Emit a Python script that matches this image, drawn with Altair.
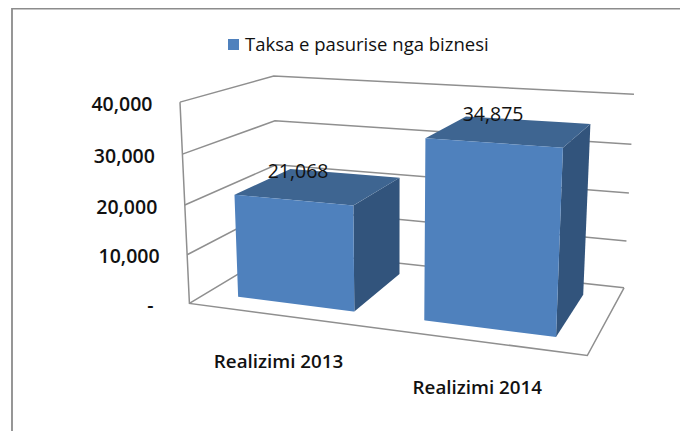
import altair as alt
import numpy as np
import pandas as pd

# ---- chart values ----
categories = ["Realizimi 2013", "Realizimi 2014"]
values = [21068, 34875]
value_labels = ["21,068", "34,875"]
tick_values = [0, 10000, 20000, 30000, 40000]
tick_labels = ["-", "10,000", "20,000", "30,000", "40,000"]
series_name = "Taksa e pasurise nga biznesi"
axis_max = 40000

# ---- 3-D layout: calibration of the box (u across, w depth, v height) -> page pixels ----
calibration = [
    (0, 0, 1, 179, 102), (0, 0, .75, 183, 154), (0, 0, .5, 185, 205), (0, 0, .25, 188, 254), (0, 0, 0, 189, 304),
    (0, 1, 1, 274, 76), (0, 1, .75, 275, 121), (0, 1, .5, 276, 165), (0, 1, .25, 277, 208), (0, 1, 0, 278, 250),
    (1, 1, 1, 634, 94), (1, 1, .75, 631, 145), (1, 1, .5, 629, 193), (1, 1, .25, 627, 241), (1, 1, 0, 624, 287),
    (1, 0, 0, 587, 356),
]
rows = []
for u, w, v, px, py in calibration:
    X = [u, v, w, 1]
    rows.append(X + [0] * 4 + [-px * t for t in X])
    rows.append([0] * 4 + X + [-py * t for t in X])
P = np.linalg.svd(np.array(rows, float))[2][-1].reshape(3, 4)


def project(u, w, v):
    p = P @ np.array([u, v, w, 1.0])
    return float(p[0] / p[2]), float(p[1] / p[2])


bar_u = [(0.09, 0.41), (0.591, 0.911)]
bar_w = (0.175, 0.815)
label_nudge = [(-22, -14), (-18, -16)]

W, H = 672, 423
xs = alt.Scale(domain=[8, 8 + W], range=[0, W], nice=False, zero=False)
ys = alt.Scale(domain=[8, 8 + H], range=[0, H], nice=False, zero=False)
X_ = lambda f="x": alt.X(f"{f}:Q", scale=xs, axis=None)
Y_ = lambda f="y": alt.Y(f"{f}:Q", scale=ys, axis=None)

GRID = "#8f8f8f"
FRONT, TOP, SIDE = "#4f81bd", "#3e6591", "#32547c"
FONT = "Open Sans"
INK = "#111111"


def polygon_rows(poly, key):
    """Describe a convex polygon as the x / y / y2 of an area mark."""
    n = len(poly)
    out = []
    for bx in sorted({p[0] for p in poly}):
        hits = []
        for i in range(n):
            (x0, y0), (x1, y1) = poly[i], poly[(i + 1) % n]
            if min(x0, x1) <= bx <= max(x0, x1):
                if x0 == x1:
                    hits += [y0, y1]
                else:
                    hits.append(y0 + (y1 - y0) * (bx - x0) / (x1 - x0))
        out.append({"x": bx, "y": min(hits), "y2": max(hits), "key": key})
    return out


# Gridlines and floor
lines = []
for t in tick_values:
    v = t / axis_max
    for i, (u, w) in enumerate([(0, 0), (0, 1), (1, 1)]):
        x, y = project(u, w, v)
        lines.append({"x": x, "y": y, "k": f"g{t}", "o": i})
for i, (u, w, v) in enumerate([(0, 0, 1), (0, 0, 0), (1, 0, 0), (1, 1, 0)]):
    x, y = project(u, w, v)
    lines.append({"x": x, "y": y, "k": "frame", "o": i})
lines_df = pd.DataFrame(lines)
grid = alt.Chart(lines_df).mark_line(color=GRID, strokeWidth=1.5, interpolate="linear").encode(
    x=X_(), y=Y_(), detail="k:N", order="o:Q")

# Bars
face_rows = {"front": [], "top": [], "side": []}
for i, val in enumerate(values):
    u0, u1 = bar_u[i]
    w0, w1 = bar_w
    v = val / axis_max
    face_rows["front"] += polygon_rows(
        [project(u0, w0, 0), project(u1, w0, 0), project(u1, w0, v), project(u0, w0, v)], f"b{i}")
    face_rows["top"] += polygon_rows(
        [project(u0, w0, v), project(u1, w0, v), project(u1, w1, v), project(u0, w1, v)], f"b{i}")
    face_rows["side"] += polygon_rows(
        [project(u1, w0, 0), project(u1, w1, 0), project(u1, w1, v), project(u1, w0, v)], f"b{i}")


def faces(name, color):
    return alt.Chart(pd.DataFrame(face_rows[name])).mark_area(
        color=color, opacity=1, interpolate="linear").encode(
        x=X_(), y=Y_(), y2="y2:Q", detail="key:N")


# Frame of the chart area
frame = alt.Chart(pd.DataFrame([{"x": 12, "y": 8.6, "k": 0, "o": 1},
                                {"x": 12, "y": 8 + H, "k": 0, "o": 0},
                                {"x": 8 + W, "y": 8.6, "k": 0, "o": 2}])).mark_line(
    color="#8c8c8c", strokeWidth=1.8).encode(x=X_(), y=Y_(), detail="k:N", order="o:Q")

# Tick labels
tick_df = pd.DataFrame([
    {"x": project(0, 0, t / axis_max)[0] - (36 if t == 0 else 27.5),
     "y": project(0, 0, t / axis_max)[1] + 2.5, "t": lab}
    for t, lab in zip(tick_values, tick_labels)])
ticks = alt.Chart(tick_df).mark_text(
    font=FONT, fontSize=19.5, fontWeight=600, align="right", baseline="middle", color=INK).encode(
    x=X_(), y=Y_(), text="t:N")

# Data labels
val_df = pd.DataFrame([
    {"x": project(bar_u[i][0] + 0.16, 0.5, val / axis_max)[0] + label_nudge[i][0],
     "y": project(bar_u[i][0] + 0.16, 0.5, val / axis_max)[1] + label_nudge[i][1], "t": lab}
    for i, (val, lab) in enumerate(zip(values, value_labels))])
val_text = alt.Chart(val_df).mark_text(
    font=FONT, fontSize=19.5, fontWeight=400, align="center", baseline="middle", color=INK).encode(
    x=X_(), y=Y_(), text="t:N")

# Category labels
cat_df = pd.DataFrame([
    {"x": project(sum(bar_u[i]) / 2, 0, 0)[0] - 1,
     "y": project(sum(bar_u[i]) / 2, 0, 0)[1] + 46.5, "t": c}
    for i, c in enumerate(categories)])
cat_text = alt.Chart(cat_df).mark_text(
    font=FONT, fontSize=18.8, fontWeight=600, align="center", baseline="middle", color=INK).encode(
    x=X_(), y=Y_(), text="t:N")

# Legend
legend_key = alt.Chart(pd.DataFrame([{"x": 233.5, "y": 44.5}])).mark_square(
    size=121, color=FRONT, opacity=1).encode(x=X_(), y=Y_())
legend_text = alt.Chart(pd.DataFrame([{"x": 245, "y": 45, "t": series_name}])).mark_text(
    font=FONT, fontSize=18.5, fontWeight=500, align="left", baseline="middle", color=INK).encode(
    x=X_(), y=Y_(), text="t:N")

chart = alt.layer(
    grid, faces("side", SIDE), faces("top", TOP), faces("front", FRONT),
    frame, ticks, val_text, cat_text, legend_key, legend_text,
).properties(
    width=W, height=H, padding=0, autosize=alt.AutoSizeParams(type="none"), background="white",
).configure_view(stroke=None)

chart.save("out.html", embed_options={"renderer": "svg", "actions": False})
